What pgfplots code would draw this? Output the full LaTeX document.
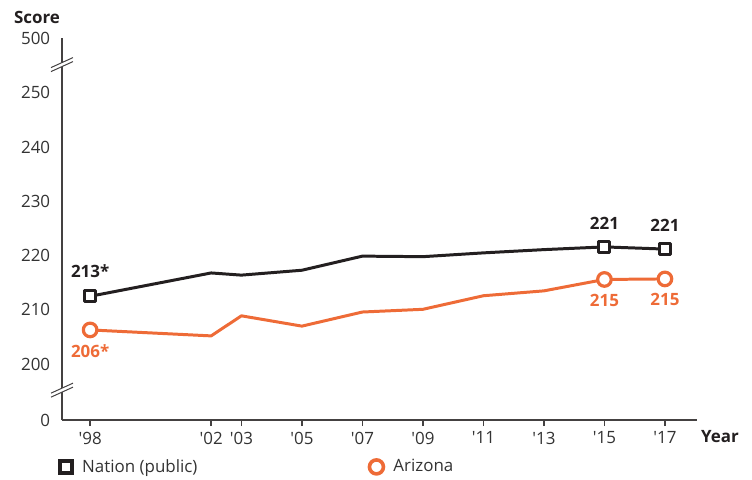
\documentclass[border=0pt]{standalone}
\usepackage{fontspec}
\setmainfont{Open Sans}[Ligatures=TeXOff]
\usepackage{pgfplots}
\pgfplotsset{compat=1.18}
\definecolor{natc}{RGB}{35,31,32}
\definecolor{azc}{RGB}{238,107,55}
\definecolor{txtc}{RGB}{51,51,51}
\begin{document}
\fontsize{17}{20}\selectfont
\begin{tikzpicture}
\path[use as bounding box] (-62bp,-60bp) rectangle (690bp,420bp);
\begin{axis}[
  at={(0,0)}, anchor=south west,
  scale only axis, width=635bp, height=382bp,
  xmin=1997.07, xmax=2018.06, ymin=189.7, ymax=260.1,
  axis x line*=bottom, axis y line*=left,
  axis line style={-, line width=1.3pt, color=natc!85},
  xtick={1998,2002,2003,2005,2007,2009,2011,2013,2015,2017},
  xticklabels={'98,'02,'03,'05,'07,'09,'11,'13,'15,'17},
  ytick={189.7,200,210,220,230,240,250,260.1},
  yticklabels={0,200,210,220,230,240,250,500},
  tick align=outside, major tick length=6bp,
  xtick style={color=natc!85, line width=1.3pt},
  ytick style={draw=none},
  tick label style={font=\fontsize{17}{20}\selectfont, text=txtc},
  /pgf/number format/assume math mode=true,
  clip=false,
  legend style={draw=none, fill=none, at={(0,0)}, anchor=north west, xshift=-5bp, yshift=-35bp,
    legend columns=2, font=\fontsize{17}{20}\selectfont, text=txtc,
    /tikz/every odd column/.append style={column sep=8bp},
    /tikz/every even column/.append style={column sep=170bp}},
  legend image code/.code={\draw[#1] plot coordinates {(0bp,0bp)};},
]
\addlegendimage{only marks, mark=square*, mark size=6bp, mark options={draw=natc, fill=white, line width=4.5pt}}
\addlegendentry{Nation (public)}
\addlegendimage{only marks, mark=*, mark size=7bp, mark options={draw=azc, fill=white, line width=3.6pt}}
\addlegendentry{Arizona}

\addplot[forget plot, natc, line width=3pt, line join=round, mark=square*, mark indices={1,9,10},
  mark size=5.5bp, mark options={fill=white, line width=3pt, solid}]
  coordinates {(1998,212.5) (2002,216.8) (2003,216.4) (2005,217.3) (2007,219.9) (2009,219.8) (2011,220.5) (2013,221.1) (2015,221.6) (2017,221.2)};
\addplot[forget plot, azc, line width=3pt, line join=round, mark=*, mark indices={1,9,10},
  mark size=6.8bp, mark options={fill=white, line width=3.2pt, solid}]
  coordinates {(1998,206.3) (2002,205.2) (2003,208.9) (2005,207.0) (2007,209.6) (2009,210.1) (2011,212.6) (2013,213.5) (2015,215.6) (2017,215.7)};

\node[font=\bfseries, text=natc, yshift=25bp] at (axis cs:1998,212.5) {213*};
\node[font=\bfseries, text=natc, yshift=24bp] at (axis cs:2015,221.6) {221};
\node[font=\bfseries, text=natc, yshift=24bp] at (axis cs:2017,221.2) {221};
\node[font=\bfseries, text=azc, yshift=-21bp] at (axis cs:1998,206.3) {206*};
\node[font=\bfseries, text=azc, yshift=-21bp] at (axis cs:2015,215.6) {215};
\node[font=\bfseries, text=azc, yshift=-21bp] at (axis cs:2017,215.7) {215};

\node[font=\bfseries, text=natc, xshift=-25bp, yshift=21bp] at (rel axis cs:0,1) {Score};
\node[font=\bfseries, text=natc, xshift=23bp, yshift=-17bp] at (rel axis cs:1,0) {Year};

\begin{scope}[shift={(axis cs:1997.07,255.2)}]
  \fill[white] (-11bp,-7bp) -- (11bp,3bp) -- (11bp,7bp) -- (-11bp,-3bp) -- cycle;
  \draw[natc!85, line width=1pt] (-11bp,-7bp) -- (11bp,3bp);
  \draw[natc!85, line width=1pt] (-11bp,-3bp) -- (11bp,7bp);
\end{scope}
\begin{scope}[shift={(axis cs:1997.07,195.2)}]
  \fill[white] (-11bp,-7bp) -- (11bp,3bp) -- (11bp,7bp) -- (-11bp,-3bp) -- cycle;
  \draw[natc!85, line width=1pt] (-11bp,-7bp) -- (11bp,3bp);
  \draw[natc!85, line width=1pt] (-11bp,-3bp) -- (11bp,7bp);
\end{scope}
\end{axis}
\end{tikzpicture}
\end{document}
